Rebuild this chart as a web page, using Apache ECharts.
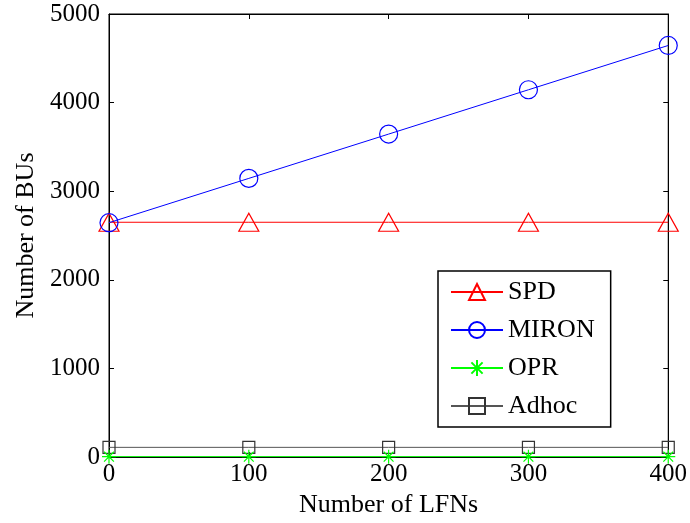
<!DOCTYPE html>
<html><head><meta charset="utf-8">
<script src="https://cdn.jsdelivr.net/npm/echarts@6/dist/echarts.min.js"></script>
<style>html,body{margin:0;padding:0;background:#fff}#c{width:690px;height:523px}</style>
</head><body><div id="c"></div>
<script>
const xValues = [0, 100, 200, 300, 400];
const spd = [2650, 2650, 2650, 2650, 2650];
const miron = [2645, 3145, 3645, 4145, 4645];
const opr = [5, 5, 5, 5, 5];
const adhoc = [110, 110, 110, 110, 110];
const yTicks = [0, 1000, 2000, 3000, 4000, 5000];

const star = 'path://M0,5 L10,5 M5,0 L5,10 M1.5,1.5 L8.5,8.5 M1.5,8.5 L8.5,1.5';
const font = '"Liberation Serif", "DejaVu Serif", serif';
function pts(arr){ return xValues.map((x,i)=>[x, arr[i]]); }
const tickOnly = {show:true, inside:true, length:5, lineStyle:{color:'#000'}};
const chart = echarts.init(document.getElementById('c'));
chart.setOption({
  animation:false,
  textStyle:{fontFamily:font},
  grid:{left:109, right:21, top:14, bottom:64, show:true, borderColor:'#000', borderWidth:1, backgroundColor:'transparent'},
  xAxis:[{type:'value', min:0, max:400, interval:100,
    name:'Number of LFNs', nameLocation:'middle', nameGap:34,
    nameTextStyle:{fontSize:26, color:'#000', fontFamily:font},
    axisLine:{show:true, onZero:false, lineStyle:{color:'#000', width:1}},
    axisTick:tickOnly,
    axisLabel:{fontSize:25, color:'#000', margin:5, fontFamily:font, formatter:v=>String(v)},
    splitLine:{show:false}},
   {type:'value', position:'top', min:0, max:400, interval:100,
    axisLine:{show:true, onZero:false, lineStyle:{color:'#000', width:1}},
    axisTick:tickOnly, axisLabel:{show:false}, splitLine:{show:false}}],
  yAxis:[{type:'value', min:0, max:5000, interval:1000,
    name:'Number of BUs', nameLocation:'middle', nameGap:68,
    nameTextStyle:{fontSize:26, color:'#000', fontFamily:font},
    axisLine:{show:true, onZero:false, lineStyle:{color:'#000', width:1}},
    axisTick:tickOnly,
    axisLabel:{fontSize:25, color:'#000', margin:9, fontFamily:font, formatter:v=>String(v)},
    splitLine:{show:false}},
   {type:'value', position:'right', min:0, max:5000, interval:1000,
    axisLine:{show:true, onZero:false, lineStyle:{color:'#000', width:1}},
    axisTick:tickOnly, axisLabel:{show:false}, splitLine:{show:false}}],
  legend:{
    orient:'vertical', left:438, top:271,
    padding:[8, 16, 8, 12], itemGap:12, itemWidth:52, itemHeight:20,
    backgroundColor:'#fff', borderColor:'#000', borderWidth:1.5,
    textStyle:{fontSize:26, color:'#000', fontFamily:font},
    data:['SPD','MIRON','OPR','Adhoc']
  },
  series:[
    {name:'SPD', type:'line', data:pts(spd), symbol:'triangle', symbolSize:[20,18],
     lineStyle:{color:'#ff0000', width:1}, itemStyle:{color:'transparent', borderColor:'#ff0000', borderWidth:1.2},
     color:'#ff0000', z:3},
    {name:'MIRON', type:'line', data:pts(miron), symbol:'circle', symbolSize:18,
     lineStyle:{color:'#0000ff', width:1}, itemStyle:{color:'transparent', borderColor:'#0000ff', borderWidth:1.2},
     color:'#0000ff', z:4},
    {name:'OPR', type:'line', data:pts(opr), symbol:star, symbolSize:14,
     lineStyle:{color:'#00ff00', width:1}, itemStyle:{color:'transparent', borderColor:'#00ff00', borderWidth:1.2},
     color:'#00ff00', z:5},
    {name:'Adhoc', type:'line', data:pts(adhoc), symbol:'rect', symbolSize:12,
     lineStyle:{color:'#555', width:1}, itemStyle:{color:'transparent', borderColor:'#333', borderWidth:1.2},
     color:'#555', z:2},
    {name:'_frame', type:'line', xAxisIndex:1, yAxisIndex:1, data:[], silent:true}
  ]
});
</script></body></html>
